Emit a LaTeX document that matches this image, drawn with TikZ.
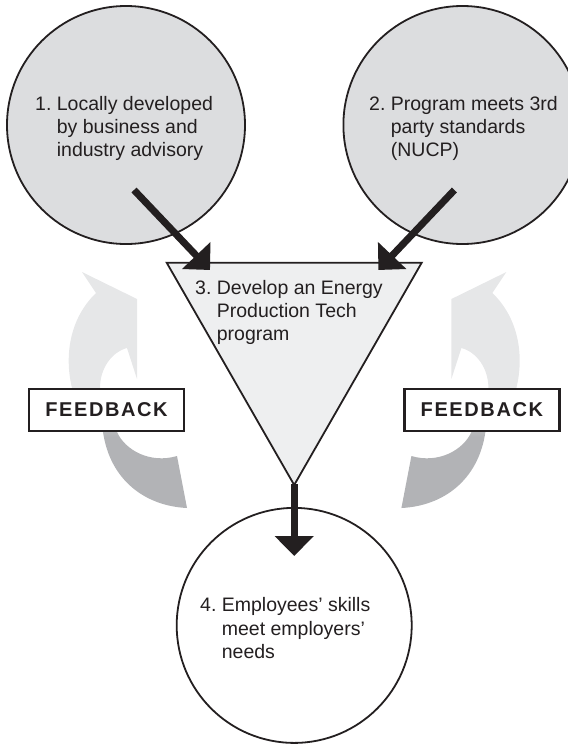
\documentclass[tikz,border=0pt]{standalone}
\usepackage{fontspec}
\setmainfont{Liberation Sans}
\newfontfamily\fbfont[LetterSpace=8]{Liberation Sans}
\usetikzlibrary{arrows.meta}
\definecolor{ink}{HTML}{231F20}
\definecolor{circgray}{HTML}{DCDDDF}
\definecolor{trigray}{HTML}{EEEFF0}
\definecolor{fblight}{HTML}{E6E7E8}
\definecolor{fbdark}{HTML}{B2B3B6}
\pgfdeclareverticalshading{fbshade}{100bp}{color(0bp)=(fbdark); color(40bp)=(fbdark); color(50bp)=(fblight); color(100bp)=(fblight)}
\begin{document}
\begin{tikzpicture}[x=1pt,y=-1pt,
  bigcirc/.style={circle, draw=ink, line width=1.8pt, inner sep=0pt},
  labeltext/.style={anchor=base west, inner sep=0pt, text=ink, font=\fontsize{19.5}{23.3}\selectfont},
  fbbox/.style={draw=ink, line width=2.5pt, fill=white, minimum width=155pt, minimum height=42pt, inner sep=0pt, font=\fbfont\bfseries\fontsize{20}{23}\selectfont, text=ink},
  bigarrow/.style={draw=ink, line width=7pt, -{Triangle[length=20pt,width=38pt]}}]
\useasboundingbox (0,0) rectangle (568,745);
% top circles
\node[bigcirc, fill=circgray, minimum size=238pt] (c1) at (126,125) {};
\node[bigcirc, fill=circgray, minimum size=238pt] (c2) at (462.4,125) {};
% feedback arrows
\foreach \sh/\sc in {0/1, 588.4/-1}{
  \begin{scope}[xshift=\sh pt, xscale=\sc]
    \shade[shading=fbshade] (82,272) -- (137,299) -- (137,379) -- (127,348)
      .. controls (112,352) and (100,368) .. (100,388) -- (117,432)
      .. controls (125,450) and (150,464) .. (177,456) -- (187,508)
      .. controls (145,506) and (110,480) .. (103,432) -- (72,388)
      .. controls (64,355) and (70,318) .. (96,293) -- cycle;
  \end{scope}
}
% triangle
\coordinate (tl) at (166.7,262.7);
\coordinate (tr) at (421.7,262.7);
\coordinate (tap) at (294.2,485);
\draw[draw=ink, fill=trigray, line width=1.8pt, line join=miter] (tl) -- (tr) -- (tap) -- cycle;
% bottom circle
\node[bigcirc, fill=white, minimum size=235pt] (c4) at (294.2,625.4) {};
% texts
\node[labeltext] (t1) at (35,110) {\begin{tabular}[t]{@{}l@{}l@{}}1.\ \strut&Locally developed\\&by business and\\&industry advisory\end{tabular}};
\node[labeltext] (t2) at (369,110) {\begin{tabular}[t]{@{}l@{}l@{}}2.\ \strut&Program meets 3rd\\&party standards\\&(NUCP)\end{tabular}};
\node[labeltext] (t3) at (195,294) {\begin{tabular}[t]{@{}l@{}l@{}}3.\ \strut&Develop an Energy\\&Production Tech\\&program\end{tabular}};
\node[labeltext] (t4) at (200,611.7) {\begin{tabular}[t]{@{}l@{}l@{}}4.\ \strut&Employees’ skills\\&meet employers’\\&needs\end{tabular}};
% arrows
\coordinate (a1s) at (134,190); \coordinate (a1e) at (210,270);
\coordinate (a2s) at (454.4,190); \coordinate (a2e) at (378.4,270);
\coordinate (a3s) at (294.2,484); \coordinate (a3e) at (294.2,556);
\draw[bigarrow] (a1s) -- (a1e);
\draw[bigarrow] (a2s) -- (a2e);
\draw[bigarrow] (a3s) -- (a3e);
% feedback boxes
\node[fbbox] (fb1) at (106.5,410) {FEEDBACK};
\node[fbbox] (fb2) at (481.9,410) {FEEDBACK};
\end{tikzpicture}
\end{document}
